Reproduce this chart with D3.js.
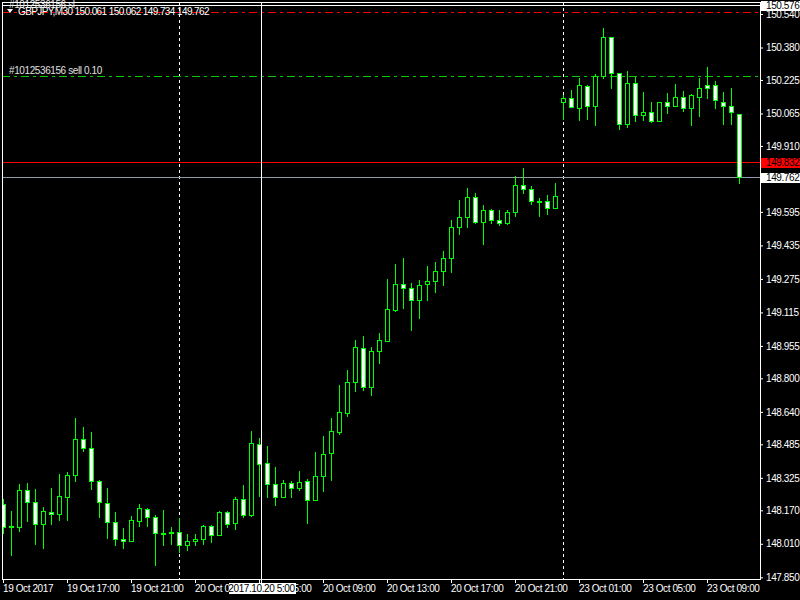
<!DOCTYPE html>
<html>
<head>
<meta charset="utf-8">
<script src="https://cdn.jsdelivr.net/npm/d3@7"></script>
<style>
body { margin: 0; background: #000; }
svg { display: block; }
text { font-family: "Liberation Sans", Arial, sans-serif; font-size: 10px; letter-spacing: -0.4px; }
</style>
</head>
<body>
<svg id="chart" width="800" height="600"></svg>
<script>
// GBPJPY M30, 19 Oct 13:00 -> 23 Oct 10:00
var opens = [148.200,148.093,148.088,148.269,148.210,148.104,148.162,148.152,148.234,148.339,
148.512,148.468,148.312,148.205,148.114,148.032,148.023,148.118,148.176,148.138,
148.060,148.063,148.066,148.003,148.023,148.032,148.094,148.051,148.162,148.109,
148.224,148.147,148.488,148.397,148.294,148.234,148.301,148.275,148.310,148.219,
148.334,148.444,148.543,148.636,148.783,148.943,148.761,148.932,148.979,149.128,
149.250,149.231,149.173,149.250,149.264,149.312,149.374,149.523,149.571,149.667,
149.547,149.605,149.557,149.542,149.595,149.724,149.705,149.647,149.648,149.614,
150.122,150.141,150.089,150.194,150.103,150.242,150.429,150.257,150.017,150.209,
150.060,150.074,150.031,150.118,150.103,150.146,150.089,150.144,150.199,150.199,
150.122,150.103,150.061]
var highs = [148.225,148.168,148.297,148.302,148.273,148.187,148.278,148.345,148.355,148.609,
148.566,148.542,148.316,148.278,148.163,148.086,148.144,148.201,148.181,148.147,
148.173,148.091,148.133,148.056,148.056,148.099,148.099,148.168,148.168,148.234,
148.292,148.550,148.516,148.479,148.379,148.316,148.308,148.360,148.321,148.446,
148.527,148.609,148.767,148.839,148.983,149.002,148.949,149.016,149.275,149.347,
149.376,149.256,149.269,149.336,149.357,149.409,149.557,149.654,149.707,149.686,
149.629,149.611,149.605,149.605,149.764,149.803,149.720,149.662,149.677,149.734,
150.151,150.175,150.234,150.199,150.252,150.472,150.429,150.257,150.266,150.237,
150.166,150.118,150.122,150.161,150.204,150.170,150.156,150.234,150.287,150.218,
150.166,150.189,150.062]
var lows = [148.061,147.957,148.069,148.117,148.011,147.992,148.106,148.125,148.125,148.308,
148.452,148.273,148.139,148.040,148.002,147.992,148.021,148.097,148.096,147.910,
148.002,148.011,147.973,147.982,148.002,148.011,148.018,148.051,148.088,148.080,
148.140,148.142,148.236,148.232,148.193,148.234,148.232,148.265,148.107,148.219,
148.260,148.313,148.536,148.622,148.740,148.745,148.721,148.874,148.979,149.123,
149.138,149.032,149.090,149.176,149.214,149.246,149.310,149.488,149.521,149.540,
149.440,149.540,149.531,149.536,149.576,149.684,149.635,149.575,149.585,149.614,
150.039,150.094,150.034,150.039,150.010,150.233,150.185,149.991,149.998,150.031,
150.036,150.026,150.031,150.065,150.103,150.077,150.010,150.055,150.141,150.089,
150.017,150.017,149.734]
var closes = [148.090,148.091,148.269,148.210,148.104,148.168,148.152,148.238,148.339,148.512,
148.468,148.310,148.210,148.114,148.032,148.023,148.123,148.181,148.138,148.061,
148.058,148.065,148.003,148.023,148.032,148.094,148.051,148.162,148.104,148.224,
148.147,148.492,148.392,148.296,148.234,148.301,148.277,148.305,148.219,148.334,
148.440,148.550,148.641,148.785,148.948,148.761,148.933,148.981,149.130,149.250,
149.231,149.173,149.245,149.264,149.312,149.374,149.523,149.571,149.667,149.547,
149.605,149.557,149.542,149.595,149.724,149.703,149.648,149.645,149.614,149.672,
150.141,150.094,150.199,150.103,150.242,150.429,150.257,150.017,150.209,150.060,
150.070,150.031,150.118,150.103,150.146,150.089,150.151,150.186,150.185,150.127,
150.103,150.070,149.762]

var timeTickIdx = [0, 8, 16, 24, 32, 40, 48, 56, 64, 72, 80, 88]
var timeLabels = ["19 Oct 2017", "19 Oct 17:00", "19 Oct 21:00", "20 Oct 01:00", "20 Oct 05:00", "20 Oct 09:00",
                  "20 Oct 13:00", "20 Oct 17:00", "20 Oct 21:00", "23 Oct 01:00", "23 Oct 05:00", "23 Oct 09:00"]
var priceTicks = [147.850, 148.010, 148.170, 148.325, 148.485, 148.640, 148.800, 148.955, 149.115,
                  149.275, 149.435, 149.595, 149.910, 150.065, 150.225, 150.380, 150.540]
var separatorIdx = [22, 70]   // 20 Oct 00:00, 23 Oct 00:00

var slPrice = 150.550
var orderPrice = 150.245
var askPrice = 149.832
var bidPrice = 149.762
var crossPrice = 150.576
var crossIdx = 32.25
var crossLabel = "2017.10.20 5:00"
var orderLabel = "#1012536156 sell 0.10"
var slLabel = "#1012536156 sl"
var header = "GBPJPY,M30 150.061 150.062 149.734 149.762"

// plot frame (window.top is read-only, so no bare "top")
var frameL = 2, frameR = 760, frameT = 2, frameB = 579

var svg = d3.select("#chart")
svg.append("rect").attr("width", 800).attr("height", 600).attr("fill", "#000")

var x = d3.scaleLinear().domain([0, 92]).range([3, 739])
var y = d3.scaleLinear().domain([147.85, 150.54]).range([577.3, 14.0])

svg.append("defs").append("clipPath").attr("id", "clip")
    .append("rect").attr("x", frameL + 1).attr("y", frameT + 1)
    .attr("width", frameR - frameL - 1).attr("height", frameB - frameT - 1)

var plot = svg.append("g").attr("clip-path", "url(#clip)").attr("shape-rendering", "crispEdges")

// period separators
plot.selectAll(".sep").data(separatorIdx).enter().append("line")
    .attr("x1", d => Math.round(x(d)) + 0.5).attr("x2", d => Math.round(x(d)) + 0.5)
    .attr("y1", frameT).attr("y2", frameB)
    .attr("stroke", "#fff").attr("stroke-dasharray", "3,3")

// price levels
function hline(p, color, dash) {
    var yy = Math.round(y(p)) + 0.5
    var l = plot.append("line").attr("x1", frameL).attr("x2", frameR).attr("y1", yy).attr("y2", yy)
        .attr("stroke", color)
    if (dash) l.attr("stroke-dasharray", dash)
}
hline(slPrice, "#ff0000", "8,4,3,4")
hline(orderPrice, "#00cc00", "8,4,3,4")
hline(askPrice, "#ff0000")
hline(bidPrice, "#9099a4")

// candles
var idx = d3.range(opens.length)
plot.selectAll(".wick").data(idx).enter().append("line")
    .attr("class", "wick")
    .attr("x1", i => Math.round(x(i)) + 0.5).attr("x2", i => Math.round(x(i)) + 0.5)
    .attr("y1", i => Math.round(y(highs[i]))).attr("y2", i => Math.round(y(lows[i])) + 1)
    .attr("stroke", "#00ff00")

plot.selectAll(".body").data(idx).enter().append("rect")
    .attr("class", "body")
    .attr("x", i => Math.round(x(i)) - 1.5).attr("width", 4)
    .attr("y", i => Math.round(y(Math.max(opens[i], closes[i]))) + 0.5)
    .attr("height", i => Math.max(1, Math.round(y(Math.min(opens[i], closes[i]))) - Math.round(y(Math.max(opens[i], closes[i])))))
    .attr("fill", i => closes[i] < opens[i] ? "#fff" : "#000")
    .attr("stroke", "#00ff00")

// crosshair
var cx = Math.round(x(crossIdx)) + 0.5
var cy = Math.round(y(crossPrice)) - 0.5
plot.append("line").attr("x1", frameL).attr("x2", frameR).attr("y1", cy).attr("y2", cy).attr("stroke", "#fff")
svg.append("line").attr("x1", cx).attr("x2", cx).attr("y1", frameT).attr("y2", 584).attr("stroke", "#fff")
    .attr("shape-rendering", "crispEdges")

// labels on chart
svg.append("text").attr("x", 9).attr("y", 8).attr("fill", "#e8e8e8").text(slLabel)
svg.append("text").attr("x", 9).attr("y", 74).attr("fill", "#e0e0e0").text(orderLabel)
svg.append("path").attr("d", "M7,9 L13,9 L10,13 Z").attr("fill", "#fff")
svg.append("text").attr("x", 18).attr("y", 15).attr("fill", "#fff").style("letter-spacing", "-0.6px").text(header)

// frame
svg.append("rect").attr("x", frameL + 0.5).attr("y", frameT + 0.5)
    .attr("width", frameR - frameL).attr("height", frameB - frameT)
    .attr("fill", "none").attr("stroke", "#fff").attr("shape-rendering", "crispEdges")

// axes
var yAxis = d3.axisRight(y).tickValues(priceTicks).tickFormat(d3.format(".3f")).tickSize(3).tickPadding(3)
var ya = svg.append("g").attr("transform", "translate(" + frameR + ",0)").call(yAxis)
ya.select(".domain").remove()
ya.selectAll("line").attr("stroke", "#fff")
ya.selectAll("text").attr("fill", "#fff").style("font-family", "Liberation Sans, Arial, sans-serif").style("font-size", "10px")

var xAxis = d3.axisBottom(x).tickValues(timeTickIdx).tickFormat((d, i) => timeLabels[i]).tickSize(4).tickPadding(2)
var xa = svg.append("g").attr("transform", "translate(0," + frameB + ")").call(xAxis)
xa.select(".domain").remove()
xa.selectAll("line").attr("stroke", "#fff")
xa.selectAll("text").attr("fill", "#fff").attr("text-anchor", "start").attr("x", -0.5)
    .style("font-family", "Liberation Sans, Arial, sans-serif").style("font-size", "10px")

// value boxes on the price scale
function priceBox(p, yy, bg, fg) {
    svg.append("rect").attr("x", frameR + 1).attr("y", yy - 5).attr("width", 39).attr("height", 10)
        .attr("fill", bg).attr("shape-rendering", "crispEdges")
    svg.append("text").attr("x", frameR + 6).attr("y", yy).attr("dy", "0.34em").attr("fill", fg)
        .text(d3.format(".3f")(p))
}
priceBox(crossPrice, cy, "#fff", "#000")
priceBox(askPrice, Math.round(y(askPrice)) + 0.5, "#ff0000", "#000")
priceBox(bidPrice, Math.round(y(bidPrice)) + 0.5, "#fff", "#000")

// crosshair date box
svg.append("rect").attr("x", cx - 33).attr("y", 583).attr("width", 67).attr("height", 11)
    .attr("fill", "#fff").attr("shape-rendering", "crispEdges")
svg.append("text").attr("x", cx).attr("y", 592).attr("text-anchor", "middle").attr("fill", "#000").text(crossLabel)
</script>
</body>
</html>
